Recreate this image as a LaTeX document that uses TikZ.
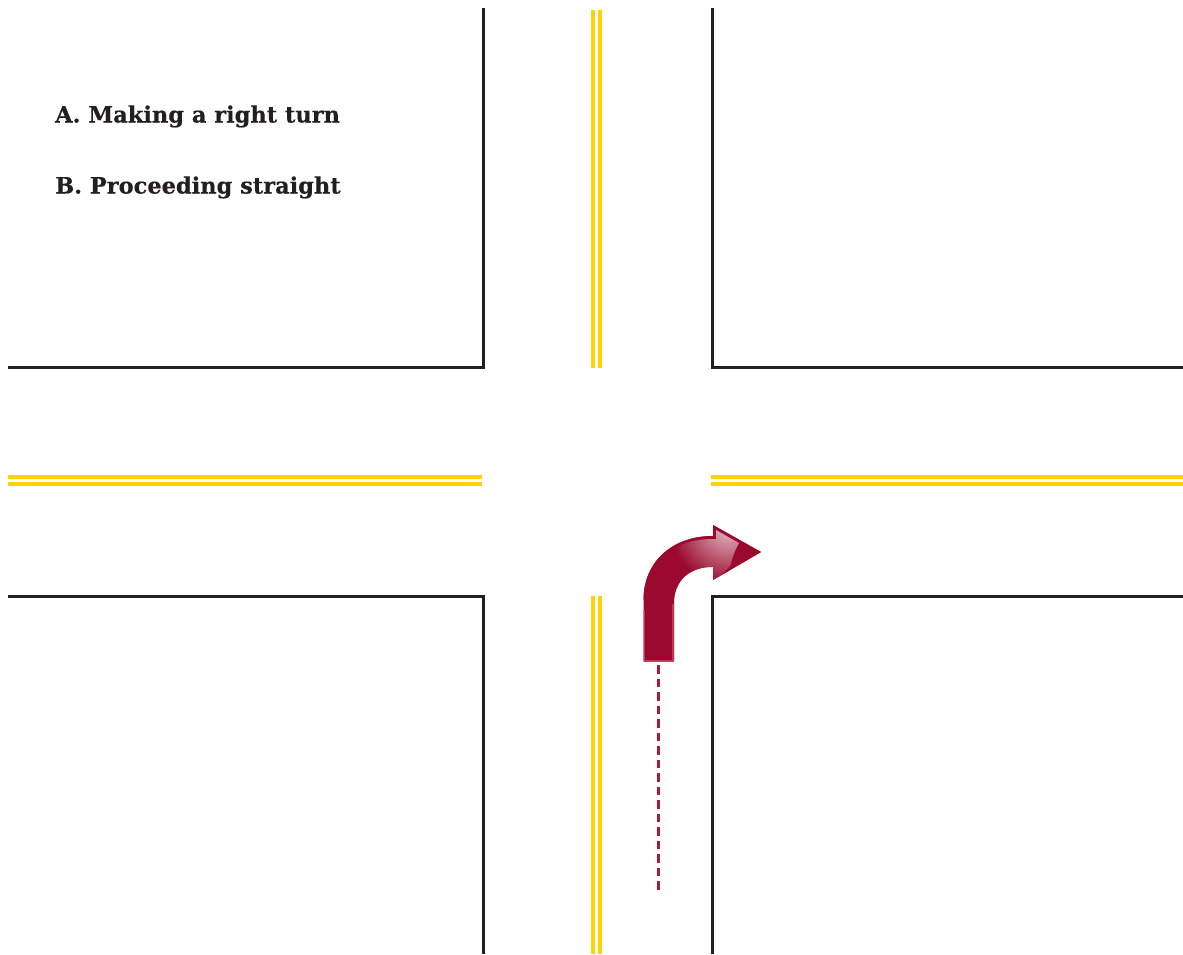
\documentclass[tikz,border=0pt]{standalone}
\usepackage{fontspec}
\setmainfont[BoldFeatures={FakeBold=0.35}]{DejaVu Serif}
\usetikzlibrary{fadings}
\definecolor{ink}{HTML}{231F20}
\definecolor{lane}{HTML}{FFD200}
\definecolor{maroon}{HTML}{9B0A2E}
\definecolor{rimlight}{HTML}{BC3A58}
\definecolor{dashred}{HTML}{A51C3C}
\tikzfading[name=glowfade,inner color=transparent!25,outer color=transparent!100]
\tikzset{
  curb/.style={draw=ink,line width=3pt,line join=miter},
  laneline/.style={draw=lane,line width=3.9pt},
  label/.style={anchor=base west,inner sep=0pt,font=\fontsize{22.5}{27}\selectfont\bfseries,text=ink},
  guide/.style={draw=dashred,line width=3pt,dash pattern=on 8.5pt off 5pt}
}
\begin{document}
\begin{tikzpicture}[x=1pt,y=-1pt]
\useasboundingbox (0,0) rectangle (1183,954);
\fill[white] (0,0) rectangle (1183,954);
% corners
\coordinate (tlA) at (483.5,8);   \coordinate (tlB) at (483.5,367); \coordinate (tlC) at (8,367);
\coordinate (trA) at (712,8);     \coordinate (trB) at (712,367);   \coordinate (trC) at (1183,367);
\coordinate (blA) at (8,596);     \coordinate (blB) at (483.5,596); \coordinate (blC) at (483.5,954);
\coordinate (brA) at (1183,596);  \coordinate (brB) at (712,596);   \coordinate (brC) at (712,954);
\draw[curb] (tlA) -- (tlB) -- (tlC);
\draw[curb] (trA) -- (trB) -- (trC);
\draw[curb] (blA) -- (blB) -- (blC);
\draw[curb] (brA) -- (brB) -- (brC);
% lane markings
\draw[laneline] (593.3,10) -- (593.3,368);
\draw[laneline] (600.4,10) -- (600.4,368);
\draw[laneline] (593.3,596) -- (593.3,954);
\draw[laneline] (600.4,596) -- (600.4,954);
\draw[laneline] (8,476.8) -- (482,476.8);
\draw[laneline] (8,484) -- (482,484);
\draw[laneline] (711,476.8) -- (1183,476.8);
\draw[laneline] (711,484) -- (1183,484);
% labels
\node[label] (optA) at (55,122.5) {A. Making a right turn};
\node[label] (optB) at (55,193.5) {B. Proceeding straight};
% guide line
\coordinate (gStart) at (658,891);
\coordinate (gEnd) at (658,665);
\draw[guide] (gEnd) -- (gStart);
% arrow
\def\arrowpath{(643.5,661.5) -- (643.5,600) .. controls (643.5,562) and (672,536) .. (713,536) -- (713,525) -- (761,552) -- (713,580) -- (713,567) .. controls (690,567) and (674,580) .. (674,604) -- (674,661.5) -- cycle}
\fill[maroon] \arrowpath;
\begin{scope}
  \clip \arrowpath;
  \draw[rimlight,line width=3.4pt] (643.5,610) -- (643.5,661.5) -- (674,661.5) -- (674,604);
  \draw[maroon,line width=4pt] (643.5,600) .. controls (643.5,562) and (672,536) .. (713,536) -- (713,525) -- (761,552) -- (713,580);
  \clip (650,575) .. controls (670,541) and (695,539) .. (716,539) -- (716,530) -- (739,543) .. controls (735,550) and (733,556) .. (730,566) -- (716,580) -- (650,575) -- cycle;
  \fill[white,path fading=glowfade] (728,526) circle[radius=58];
\end{scope}
\end{tikzpicture}
\end{document}
